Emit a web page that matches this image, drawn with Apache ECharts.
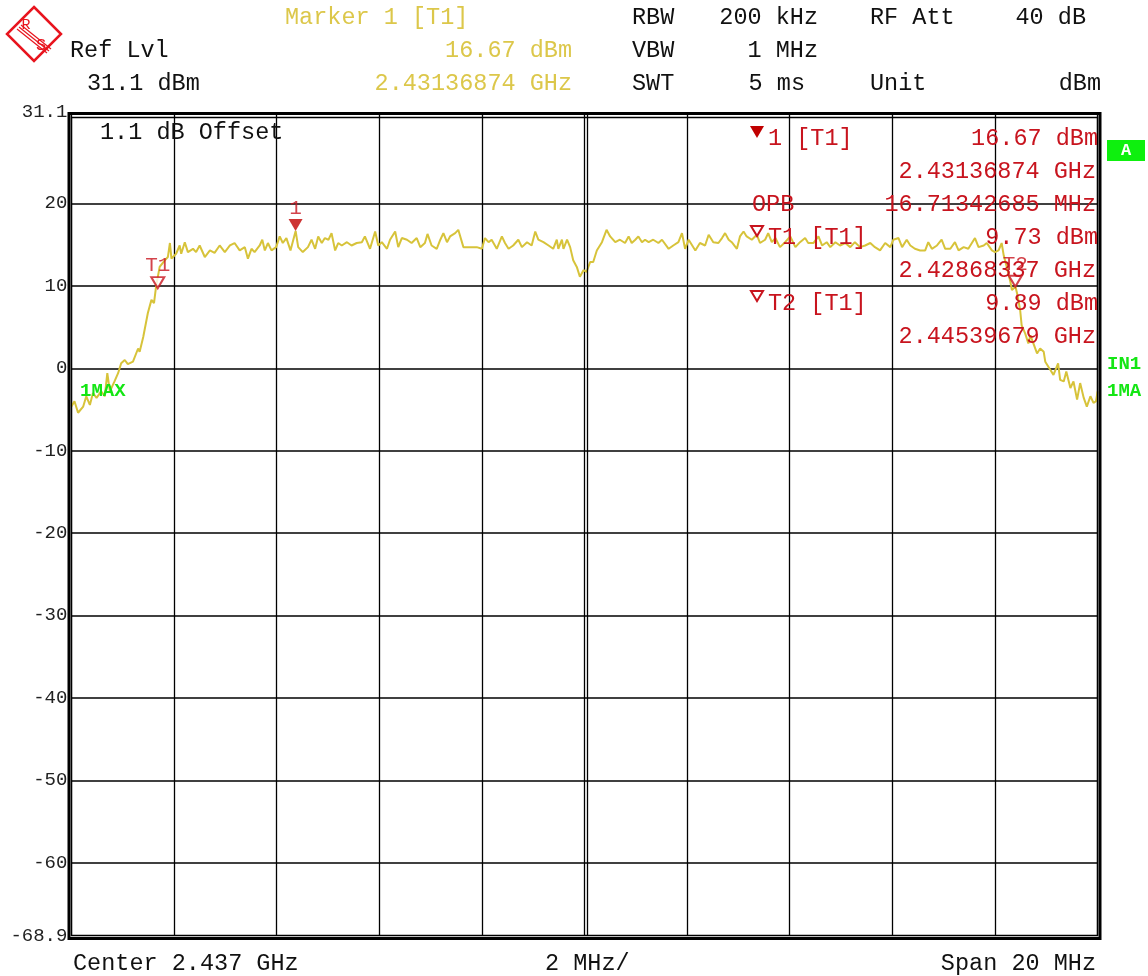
<!DOCTYPE html>
<html>
<head>
<meta charset="utf-8">
<script src="https://cdn.jsdelivr.net/npm/echarts@6/dist/echarts.min.js"></script>
<style>
  html, body { margin: 0; padding: 0; background: #fff; }
  #chart { width: 1148px; height: 976px; }
</style>
</head>
<body>
<div id="chart"></div>
<script>
// trace: frequency offset from span start (2427 MHz), in MHz, and level in dBm
const traceFreq = [
  0.00, 0.06, 0.13, 0.23, 0.29, 0.36, 0.42, 0.49, 0.58, 0.65, 0.70, 0.75, 0.84, 0.91, 0.97,
  1.04, 1.10, 1.20, 1.30, 1.33, 1.40, 1.49, 1.56, 1.61, 1.65, 1.72, 1.82, 1.88, 1.92, 1.95,
  2.04, 2.11, 2.14, 2.21, 2.27, 2.37, 2.43, 2.50, 2.60, 2.70, 2.79, 2.89, 2.99,
  3.09, 3.18, 3.28, 3.38, 3.44, 3.51, 3.57, 3.67, 3.72, 3.77, 3.83, 3.90, 3.99,
  4.06, 4.12, 4.19, 4.27, 4.37, 4.42, 4.51, 4.61, 4.68, 4.75, 4.81, 4.88, 4.94,
  5.01, 5.07, 5.14, 5.20, 5.27, 5.37, 5.46, 5.56, 5.66, 5.72, 5.82, 5.92, 5.98,
  6.05, 6.15, 6.21, 6.31, 6.37, 6.44, 6.54, 6.63, 6.73, 6.80, 6.89, 6.94,
  7.02, 7.12, 7.19, 7.25, 7.32, 7.38, 7.48, 7.54, 7.64, 7.77, 7.90,
  8.00, 8.06, 8.13, 8.19, 8.29, 8.39, 8.45, 8.52, 8.61, 8.71, 8.78, 8.88, 8.97,
  9.04, 9.10, 9.20, 9.30, 9.39, 9.46, 9.49, 9.56, 9.59, 9.66, 9.72, 9.78, 9.85, 9.91, 9.98,
  10.04, 10.11, 10.17, 10.24, 10.34, 10.43, 10.50, 10.60, 10.69, 10.79, 10.86, 10.92, 10.99,
  11.05, 11.12, 11.18, 11.25, 11.34, 11.44, 11.51, 11.64, 11.73, 11.83, 11.90, 11.96,
  12.03, 12.16, 12.25, 12.35, 12.42, 12.51, 12.61, 12.68, 12.74, 12.81, 12.87, 12.97,
  13.03, 13.10, 13.16, 13.26, 13.36, 13.42, 13.52, 13.58, 13.65, 13.72, 13.81, 13.91,
  14.01, 14.11, 14.20, 14.30, 14.36, 14.46, 14.56, 14.63, 14.72, 14.79, 14.89, 14.98,
  15.08, 15.18, 15.27, 15.37, 15.47, 15.57, 15.66, 15.76, 15.86, 15.96,
  16.02, 16.12, 16.19, 16.28, 16.35, 16.44, 16.54, 16.64, 16.70, 16.77, 16.87, 16.96,
  17.03, 17.13, 17.22, 17.29, 17.39, 17.48, 17.61, 17.68, 17.78, 17.84, 17.94,
  18.00, 18.07, 18.13, 18.17, 18.23, 18.30, 18.33, 18.40, 18.43, 18.49, 18.52, 18.59, 18.65, 18.69,
  18.75, 18.82, 18.88, 18.95, 18.98, 19.08, 19.14, 19.23, 19.27, 19.34, 19.39, 19.47, 19.53,
  19.60, 19.66, 19.73, 19.79, 19.86, 19.92, 19.97, 20.00
];
const traceLevel = [
  -4.65, -4.0, -5.4, -4.65, -3.4, -4.45, -3.0, -3.6, -2.8, -3.4, -0.6, -2.8, -1.6, -0.6, 0.6,
  1.0, 0.5, 0.8, 2.4, 2.0, 3.8, 6.7, 8.3, 7.9, 9.9, 12.3, 13.1, 13.5, 15.2, 13.3,
  13.9, 14.9, 13.9, 15.3, 14.1, 14.5, 14.1, 14.9, 13.5, 14.3, 14.0, 14.9, 14.1,
  14.9, 15.2, 14.3, 14.7, 13.3, 14.5, 14.1, 14.9, 15.6, 14.3, 15.2, 14.3, 14.7,
  16.0, 15.2, 15.8, 14.3, 16.67, 14.7, 14.1, 14.7, 15.6, 14.5, 16.0, 15.2, 15.8,
  15.6, 16.4, 14.3, 15.2, 14.9, 15.3, 14.9, 15.2, 15.3, 16.0, 14.5, 16.6, 14.9,
  15.3, 14.5, 15.6, 16.6, 14.7, 15.8, 15.6, 15.2, 15.8, 14.7, 15.2, 16.3,
  14.9, 14.5, 15.6, 16.4, 15.3, 16.0, 16.4, 16.8, 14.7, 14.7, 14.7,
  14.5, 15.8, 15.3, 15.6, 14.5, 16.0, 15.2, 14.5, 14.9, 15.6, 14.7, 15.3, 14.9,
  16.6, 15.6, 15.3, 14.9, 14.5, 15.6, 14.5, 15.6, 14.5, 15.6, 14.7, 13.1, 12.3, 11.1, 11.9,
  11.7, 12.9, 12.9, 14.3, 15.3, 16.8, 16.0, 15.3, 15.6, 15.2, 16.0, 15.2, 15.6,
  16.0, 15.3, 15.6, 15.3, 15.6, 15.2, 15.6, 14.5, 14.9, 15.3, 16.4, 14.5,
  15.6, 14.3, 15.2, 14.9, 16.2, 15.3, 15.2, 15.8, 16.4, 15.6, 15.3, 14.5,
  16.0, 16.6, 16.0, 15.6, 16.2, 15.2, 15.6, 16.4, 15.3, 15.8, 14.7, 15.3,
  16.0, 14.7, 15.3, 15.8, 15.2, 15.2, 16.0, 14.9, 15.3, 14.7, 15.3, 14.9,
  15.2, 14.7, 15.3, 14.7, 14.9, 15.2, 14.7, 14.3, 15.2, 14.7,
  15.6, 15.8, 14.7, 15.6, 14.9, 14.5, 14.3, 14.3, 15.3, 14.5, 14.9, 15.6,
  14.5, 14.5, 15.3, 14.3, 14.7, 14.5, 15.8, 14.7, 14.9, 15.2, 14.3,
  14.1, 14.3, 15.2, 13.7, 12.3, 10.5, 9.5, 9.89, 9.1, 7.1, 5.2, 4.2, 3.0, 4.0,
  3.0, 1.8, 2.4, 2.0, 0.8, -0.2, -0.8, 0.6, -1.4, -1.6, -0.4, -2.4, -1.6,
  -3.8, -1.8, -3.6, -4.65, -3.4, -4.2, -4.0, -2.8
];

// markers (offset MHz, dBm)
const markerNames = ['T1', '1', 'T2'];
const markerFreq = [1.68337, 4.36874, 18.39679];
const markerLevel = [9.73, 16.67, 9.89];

const yLabelValues = [-68.9, -60, -50, -40, -30, -20, -10, 0, 10, 20, 31.1];
const yGridValues = [-60, -50, -40, -30, -20, -10, 0, 10, 20];

const MONO = "'Liberation Mono', 'DejaVu Sans Mono', monospace";
const RED = '#c8141e';
const YEL = '#dcc74a';
const TRACE = '#d7c33a';
const GRN = '#14e614';

function txt(x, y, s, color, align, size, weight) {
  return {
    type: 'text', z: 50, x: x, y: y + 1,
    style: {
      text: s, fill: color || '#111', align: align || 'left', verticalAlign: 'middle',
      font: (weight || 'normal') + ' ' + (size || 23.5) + 'px ' + MONO
    }
  };
}

function tri(cx, cy, filled) {
  return {
    type: 'polygon', z: 50,
    shape: { points: filled ? [[cx - 7, cy - 6], [cx + 7, cy - 6], [cx, cy + 6]]
                            : [[cx - 6, cy - 5], [cx + 6, cy - 5], [cx, cy + 5]] },
    style: filled ? { fill: '#c00000' } : { fill: 'none', stroke: RED, lineWidth: 2 }
  };
}

const chart = echarts.init(document.getElementById('chart'));

const tracePoints = traceFreq.map((f, i) => [f, traceLevel[i]]);
const markerPoints = markerFreq.map((f, i) => ({
  value: [f, markerLevel[i]],
  name: markerNames[i],
  symbol: markerNames[i] === '1' ? 'path://M0,0 L14,0 L7,12 Z' : 'path://M0,0 L12,0 L6,10 Z',
  symbolSize: markerNames[i] === '1' ? [14, 12] : [13, 11],
  symbolOffset: [0, markerNames[i] === '1' ? -6 : -5.5],
  itemStyle: markerNames[i] === '1'
    ? { color: '#c00000' }
    : { color: '#fff', borderColor: RED, borderWidth: 2 }
}));

const graphics = [
  // header
  txt(285, 17, 'Marker 1 [T1]', YEL),
  txt(632, 17, 'RBW'),
  txt(818, 17, '200 kHz', null, 'right'),
  txt(870, 17, 'RF Att'),
  txt(1086, 17, '40 dB', null, 'right'),
  txt(70, 50, 'Ref Lvl'),
  txt(572, 50, '16.67 dBm', YEL, 'right'),
  txt(632, 50, 'VBW'),
  txt(818, 50, '1 MHz', null, 'right'),
  txt(87, 83, '31.1 dBm'),
  txt(572, 83, '2.43136874 GHz', YEL, 'right'),
  txt(632, 83, 'SWT'),
  txt(805, 83, '5 ms', null, 'right'),
  txt(870, 83, 'Unit'),
  txt(1101, 83, 'dBm', null, 'right'),
  // in-plot annotations
  txt(100, 132, '1.1 dB Offset'),
  tri(757, 132, true),
  txt(768, 138, '1 [T1]', RED),
  txt(1098, 138, '16.67 dBm', RED, 'right'),
  txt(1096, 171, '2.43136874 GHz', RED, 'right'),
  txt(752, 204, 'OPB', RED),
  txt(1096, 204, '16.71342685 MHz', RED, 'right'),
  tri(757, 231, false),
  txt(768, 237, 'T1 [T1]', RED),
  txt(1098, 237, '9.73 dBm', RED, 'right'),
  txt(1096, 270, '2.42868337 GHz', RED, 'right'),
  tri(757, 296, false),
  txt(768, 303, 'T2 [T1]', RED),
  txt(1098, 303, '9.89 dBm', RED, 'right'),
  txt(1096, 336, '2.44539679 GHz', RED, 'right'),
  txt(80, 390, '1MAX', GRN, 'left', 19, 'bold'),
  txt(1107, 363, 'IN1', GRN, 'left', 19, 'bold'),
  txt(1107, 390, '1MA', GRN, 'left', 19, 'bold'),
  { type: 'rect', z: 50, shape: { x: 1107, y: 140, width: 38, height: 21 }, style: { fill: '#0ef00e' } },
  txt(1126, 150, 'A', '#fff', 'center', 17, 'bold'),
  // footer
  txt(73, 963, 'Center 2.437 GHz'),
  txt(545, 963, '2 MHz/'),
  txt(1096, 963, 'Span 20 MHz', null, 'right'),
  // frame
  { type: 'rect', z: 40, shape: { x: 71.5, y: 117.5, width: 1026, height: 818 },
    style: { fill: 'none', stroke: '#000', lineWidth: 1.3 } },
  { type: 'rect', z: 40, shape: { x: 69, y: 113.5, width: 1031, height: 825 },
    style: { fill: 'none', stroke: '#000', lineWidth: 3 } },
  // R&S logo
  { type: 'polygon', z: 50, shape: { points: [[34, 7], [61, 34], [34, 61], [7, 34]] },
    style: { fill: 'none', stroke: '#e8141e', lineWidth: 2.5 } },
  { type: 'line', z: 50, shape: { x1: 17, y1: 29, x2: 47, y2: 53 }, style: { stroke: '#e8141e', lineWidth: 1.2 } },
  { type: 'line', z: 50, shape: { x1: 19, y1: 27, x2: 49, y2: 51 }, style: { stroke: '#e8141e', lineWidth: 1.2 } },
  { type: 'line', z: 50, shape: { x1: 21, y1: 25, x2: 51, y2: 49 }, style: { stroke: '#e8141e', lineWidth: 1.2 } },
  txt(26, 24, 'R', '#e8141e', 'center', 15, 'normal'),
  txt(41, 44, 'S', '#e8141e', 'center', 17, 'normal')
];

chart.setOption({
  animation: false,
  backgroundColor: '#fff',
  grid: { left: 71.4, right: 50.4, top: 112, bottom: 40, containLabel: false },
  xAxis: {
    type: 'value', min: 0, max: 20, interval: 2,
    axisLine: { show: false },
    axisTick: { show: false },
    axisLabel: { show: false },
    splitLine: { show: true, lineStyle: { color: '#000', width: 1.3 } }
  },
  yAxis: {
    type: 'value', min: -68.9, max: 31.1,
    axisLine: { show: false },
    axisTick: { show: false, customValues: yGridValues },
    axisLabel: {
      show: true, customValues: yLabelValues, margin: 4,
      color: '#222', fontFamily: MONO, fontSize: 19,
      formatter: v => String(v)
    },
    splitLine: { show: true, lineStyle: { color: '#000', width: 1.6 } }
  },
  series: [
    {
      type: 'line', data: tracePoints, showSymbol: false, symbol: 'none',
      lineStyle: { color: TRACE, width: 2 }, z: 10
    },
    {
      type: 'scatter', data: markerPoints, z: 20,
      label: {
        show: true, position: 'top', distance: 0, formatter: p => p.name,
        color: RED, fontFamily: MONO, fontSize: 21
      }
    }
  ],
  graphic: graphics
});

// double center graticule line
const cx = chart.convertToPixel({ xAxisIndex: 0 }, 10);
const yTop = chart.convertToPixel({ yAxisIndex: 0 }, 31.1);
const yBot = chart.convertToPixel({ yAxisIndex: 0 }, -68.9);
graphics.push({ type: 'line', z: 41, shape: { x1: cx + 3, y1: yTop, x2: cx + 3, y2: yBot },
  style: { stroke: '#000', lineWidth: 1.3 } });
chart.setOption({ graphic: graphics }, { replaceMerge: ['graphic'] });
</script>
</body>
</html>
